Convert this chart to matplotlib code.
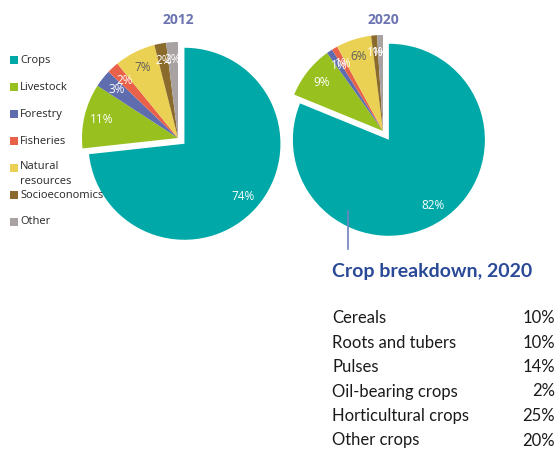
import matplotlib.pyplot as plt
from matplotlib.patches import Rectangle

plt.rcParams['font.family'] = ['Open Sans', 'DejaVu Sans']

# sector shares of the portfolio, in percent
categories = ["Crops", "Livestock", "Forestry", "Fisheries",
              "Natural\nresources", "Socioeconomics", "Other"]
share_2012 = [74, 11, 3, 2, 7, 2, 2]
share_2020 = [82, 9, 1, 1, 6, 1, 1]

colors = ["#00a9a7", "#98c11f", "#5f6daf", "#ea6149",
          "#ebd153", "#8b6b2c", "#a9a2a2"]
pct_colors = ["white", "white", "white", "white", "#5e5e5e", "white", "white"]

# crop breakdown table
crop_types = ["Cereals", "Roots and tubers", "Pulses", "Oil-bearing crops",
              "Horticultural crops", "Other crops"]
crop_shares = [10, 10, 14, 2, 25, 20]

W, H = 558, 449
R = 96
fig = plt.figure(figsize=(W / 100, H / 100), dpi=100)
ax = fig.add_axes([0, 0, 1, 1])


def draw_pie(values, cx, cy, title, pull):
    # explode offset is in data units here, so scale it by the radius
    explode = [pull * R] + [0] * (len(values) - 1)
    wedges, texts = ax.pie(values, colors=colors, startangle=90,
                           counterclock=False, explode=explode, radius=R,
                           center=(cx, H - cy),
                           labels=[f"{v}%" for v in values],
                           labeldistance=0.82,
                           textprops=dict(fontsize=8.5))
    for t, c in zip(texts, pct_colors):
        t.set_ha('center')
        t.set_va('center')
        t.set_color(c)
    ax.text(cx, H - 20, title, ha='center', va='center', fontsize=10,
            fontweight='bold', color='#6b74b0')


draw_pie(share_2012, 178, 138, "2012", 0.09)
draw_pie(share_2020, 383, 131, "2020", 0.11)

# legend on the left
legend_y = [60, 87, 114, 141, 168, 195, 222]
for y, c, name in zip(legend_y, colors, categories):
    ax.add_patch(Rectangle((10, H - y - 4), 8, 8, color=c, lw=0))
    if '\n' in name:
        ax.text(20, H - y + 7, name, ha='left', va='top', fontsize=8,
                color='#262626', linespacing=1.45)
    else:
        ax.text(20, H - y, name, ha='left', va='center', fontsize=8,
                color='#262626')

# pointer from the 2020 crops slice to the breakdown
ax.plot([348, 348], [H - 211, H - 249], color='#7282c2', lw=1.2, zorder=5)

ax.text(332, H - 271, "Crop breakdown, 2020", ha='left', va='center',
        fontsize=14, fontweight='bold', color='#2a4a98', family='Lato')
for i, (name, v) in enumerate(zip(crop_types, crop_shares)):
    y = H - (318 + 24.5 * i)
    ax.text(332, y, name, ha='left', va='center', fontsize=12,
            color='#1a1a1a', family='Lato')
    ax.text(555, y, f"{v}%", ha='right', va='center', fontsize=12,
            color='#1a1a1a', family='Lato')

ax.set_xlim(0, W)
ax.set_ylim(0, H)
ax.set_axis_off()

fig.savefig("out.png", dpi=100)
